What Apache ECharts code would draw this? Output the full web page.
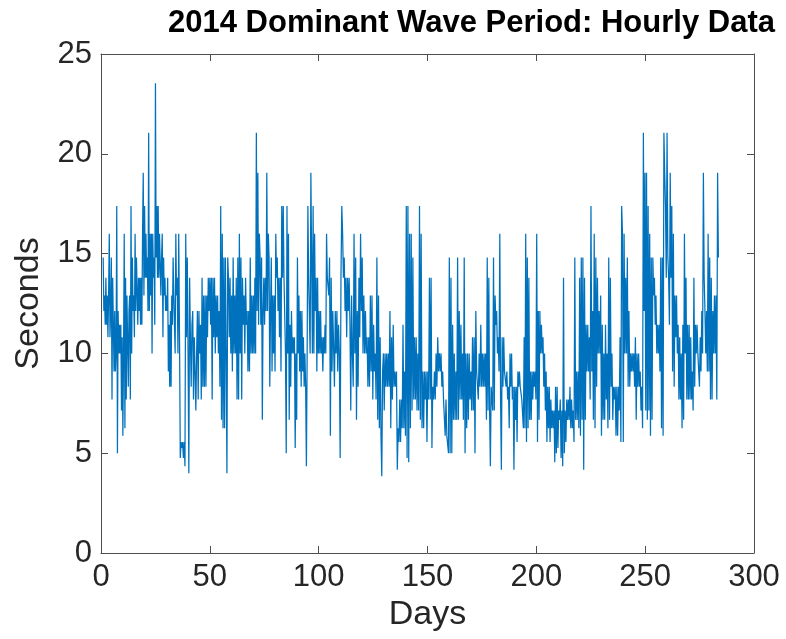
<!DOCTYPE html>
<html>
<head>
<meta charset="utf-8">
<title>2014 Dominant Wave Period</title>
<script src="https://cdn.jsdelivr.net/npm/echarts@6.0.0/dist/echarts.min.js"></script>
<style>
  html, body { margin: 0; padding: 0; background: #fff; }
  #chart { width: 786px; height: 639px; }
</style>
</head>
<body>
<div id="chart"></div>
<script>
// Dominant wave period (s), hourly buoy record for 2014, grouped into ~35-day blocks.
const periodDays01to35 = [
  14.81, 12.12, 12.90, 11.43, 13.79, 11.43, 12.90, 10.81, 12.90, 16.00, 10.81, 12.12,
  14.81, 7.69, 13.79, 13.79, 9.09, 12.12, 9.09, 10.00, 17.39, 5.00,
  12.12, 10.00, 11.43, 10.00, 11.43, 7.14, 10.81, 5.88, 10.00, 16.00, 6.25,
  13.79, 7.69, 12.90, 12.90, 8.33, 12.12, 12.90, 7.69, 17.39, 10.00,
  14.81, 12.12, 12.90, 10.81, 16.00, 12.12, 14.81, 14.81, 11.43, 13.79, 12.12,
  13.79, 11.43, 13.79, 11.43, 16.00, 19.05, 12.90, 17.39, 13.79, 16.00, 13.79,
  14.81, 12.12, 21.05, 12.12, 16.00, 12.90, 16.00, 10.00, 16.00, 13.79, 14.81, 11.43,
  23.53, 14.81, 17.39, 13.79, 17.39, 13.79, 16.00, 16.00, 12.90, 14.81, 16.00, 10.81,
  14.81, 12.90, 13.79, 12.12, 12.90, 12.12, 13.79, 9.09, 11.43, 8.33, 12.12, 8.33,
  12.90, 11.43, 14.81, 12.90, 12.90, 10.00, 16.00, 12.90
];
const periodDays35to70 = [
  13.79, 10.00, 16.00, 10.81, 4.76, 5.56, 5.26, 5.56, 4.76, 5.56, 4.35,
  16.00, 10.81, 14.81, 10.00, 4.00, 13.79, 10.81, 8.33, 11.43, 12.12, 7.69, 10.81,
  9.09, 7.14, 10.00, 12.12, 7.69, 12.12, 10.00, 11.43, 7.69, 13.79, 8.33,
  12.90, 8.33, 12.90, 8.33, 12.90, 10.81, 13.79, 12.12, 13.79, 11.43, 13.79, 7.69,
  13.79, 10.81, 13.79, 10.00, 12.90, 10.81, 12.90, 10.00, 12.12, 8.33,
  17.39, 6.67, 16.00, 6.25, 14.81, 6.25, 14.81, 10.00, 4.00, 14.81,
  13.79, 10.81, 13.79, 10.00, 12.90, 9.09, 14.81, 10.00, 12.90, 10.00,
  13.79, 7.69, 14.81, 7.69, 16.00, 10.00, 14.81, 7.69, 13.79, 11.43,
  12.90, 10.00, 13.79, 11.43, 12.12, 9.09, 12.12, 9.09, 14.81, 10.00, 12.90, 10.00
];
const periodDays70to105 = [
  12.90, 10.00, 13.79, 10.00, 21.05, 12.12, 19.05, 11.43, 16.00, 14.81, 11.43, 14.81,
  6.67, 12.12, 13.79, 11.43, 13.79, 12.12, 19.05, 12.12, 16.00, 14.81, 8.33, 12.12,
  14.81, 9.09, 12.90, 10.00, 12.90, 9.09, 16.00, 13.79, 14.81, 12.12, 13.79, 10.81,
  13.79, 9.09, 17.39, 13.79, 17.39, 13.79, 13.79, 10.00, 5.00, 17.39, 10.00,
  16.00, 6.67, 11.43, 8.33, 12.12, 10.00, 10.81, 10.00, 10.81, 5.26, 10.00, 6.67,
  14.81, 10.00, 12.90, 9.09, 12.12, 8.33, 12.12, 9.09, 10.81, 8.33, 10.00, 8.33,
  4.35, 10.00, 17.39, 13.79, 13.79, 10.00, 19.05, 14.81, 10.00, 17.39, 10.00,
  16.00, 12.12, 13.79, 9.09, 13.79, 10.00, 12.12, 10.00, 12.12, 10.00,
  10.81, 9.09, 10.81, 10.00, 11.43, 10.00, 16.00, 13.79, 13.79, 12.90
];
const periodDays105to141 = [
  14.81, 5.88, 13.79, 9.09, 12.12, 12.12, 8.33, 12.12, 10.00, 12.12, 9.09, 11.43, 10.00,
  4.76, 13.79, 17.39, 16.00, 13.79, 14.81, 12.12, 13.79, 10.81, 13.79, 12.12,
  13.79, 11.43, 7.14, 12.90, 10.00, 8.33, 16.00, 10.00, 14.81, 6.67, 12.12, 8.33,
  13.79, 10.81, 16.00, 12.12, 14.81, 10.00, 12.90, 10.00, 12.12, 10.00,
  10.81, 8.33, 10.81, 8.33, 12.90, 9.09, 12.90, 7.69, 11.43, 9.09, 10.00, 7.69,
  14.81, 6.67, 12.90, 6.25, 10.81, 5.88, 3.85, 9.09, 10.00, 7.14, 10.00, 8.33,
  10.00, 8.33, 10.00, 8.33, 12.12, 6.25, 10.81, 7.69, 11.43, 8.33, 9.09, 8.33,
  9.09, 4.17, 6.25, 5.56, 7.69, 5.56, 7.69, 6.25, 11.43, 6.25, 9.09, 5.88, 17.39, 4.76
];
const periodDays141to176 = [
  17.39, 4.55, 16.00, 6.25, 16.00, 7.14, 14.81, 7.69, 10.81, 7.69, 10.81, 7.14,
  10.00, 7.14, 17.39, 6.67, 16.00, 6.25, 9.09, 6.25, 9.09, 7.69, 9.09, 5.56,
  9.09, 7.69, 13.79, 7.69, 13.79, 5.26, 8.33, 7.69, 9.09, 7.69, 10.00, 8.33,
  10.81, 9.09, 10.00, 9.09, 10.00, 8.33, 9.09, 7.69, 7.69, 5.88, 7.69, 5.88,
  5.88, 5.00, 14.81, 5.00, 13.79, 5.00, 11.43, 6.67, 10.00, 6.67, 9.09, 6.67,
  14.81, 6.67, 12.12, 7.69, 11.43, 7.69, 10.00, 6.67, 14.81, 5.00, 10.00, 6.25,
  10.00, 6.67, 10.00, 7.69, 9.09, 7.14, 10.81, 7.14, 10.81, 5.00, 12.12, 9.09,
  9.09, 7.69, 10.00, 8.33, 11.43, 8.33, 10.00, 8.33
];
const periodDays176to211 = [
  10.00, 8.33, 10.00, 6.67, 14.81, 7.14, 13.79, 7.14, 4.35, 8.33, 8.33, 7.14,
  14.81, 7.14, 12.90, 11.43, 12.12, 10.00, 10.81, 9.09, 16.00, 7.69, 4.17,
  10.81, 8.33, 10.81, 9.09, 9.09, 8.33, 9.09, 7.69, 8.33, 6.25, 10.00, 8.33,
  10.00, 7.69, 8.33, 4.17, 8.33, 6.67, 8.33, 5.56, 9.09, 8.33, 9.09, 8.33,
  8.33, 7.69, 7.69, 6.25, 10.81, 6.25, 16.00, 5.56, 14.81, 6.25, 13.79, 6.67,
  9.09, 6.67, 9.09, 7.69, 9.09, 8.33, 9.09, 7.69, 16.00, 5.56, 12.12, 6.67,
  12.12, 10.00, 11.43, 10.00, 10.81, 8.33, 10.00, 7.14, 9.09, 5.56, 8.33, 6.25,
  8.33, 5.56, 7.69, 6.25, 7.14, 6.25, 7.14, 4.55, 8.33, 5.00, 8.33, 5.26, 7.14, 6.67
];
const periodDays211to247 = [
  7.69, 4.76, 7.14, 4.35, 13.79, 5.00, 7.14, 5.56, 7.69, 6.67, 7.69, 6.67,
  8.33, 6.25, 7.69, 6.25, 7.14, 5.56, 14.81, 6.67, 9.09, 6.67, 9.09, 6.25,
  13.79, 5.88, 14.81, 6.67, 14.81, 4.17, 13.79, 6.67, 11.43, 9.09, 11.43, 9.09,
  10.81, 7.69, 17.39, 9.09, 12.12, 6.67, 16.00, 6.25, 14.81, 8.33, 13.79, 10.00,
  12.12, 10.00, 12.90, 5.88, 11.43, 6.67, 10.00, 6.67, 11.43, 7.69, 10.00, 6.25,
  14.81, 6.67, 13.79, 8.33, 10.00, 6.67, 8.33, 7.69, 8.33, 5.88, 8.33, 5.88,
  8.33, 7.14, 10.81, 5.56, 17.39, 16.00, 5.56, 16.00, 10.00, 13.79, 10.00,
  14.81, 8.33, 12.12, 8.33, 10.00, 9.09, 10.00, 9.09, 10.00, 8.33, 10.81, 6.67, 10.00, 8.33
];
const periodDays247to284 = [
  10.00, 8.33, 9.09, 7.14, 8.33, 6.25, 21.05, 12.12, 19.05, 7.14, 19.05, 6.67,
  17.39, 7.14, 16.00, 5.88, 14.81, 6.67, 14.81, 12.90, 13.79, 11.43, 12.90, 10.00,
  11.43, 10.00, 11.43, 9.09, 14.81, 6.25, 14.81, 5.88, 21.05, 19.05, 17.39, 13.79,
  21.05, 14.81, 13.79, 11.43, 19.05, 13.79, 17.39, 9.09, 16.00, 8.33, 12.90, 10.81,
  12.90, 10.00, 11.43, 7.69, 10.81, 7.69, 10.00, 6.25, 11.43, 6.67, 16.00, 10.00,
  13.79, 7.69, 11.43, 7.69, 11.43, 7.69, 10.81, 7.69, 9.09, 7.14, 13.79, 8.33,
  11.43, 10.00, 11.43, 10.00, 10.00, 8.33, 10.81, 9.09, 12.12, 10.00, 19.05, 13.79,
  12.12, 10.00, 12.12, 9.09, 16.00, 9.09, 14.81, 7.69, 13.79, 7.69, 12.12, 10.00,
  12.90, 10.00, 12.90, 7.69, 19.05, 14.81
];

// First and last day covered by each block above.
const blockDays = [[1, 35], [35, 70], [70, 105], [105, 141], [141, 176], [176, 211], [211, 247], [247, 284]];
const blocks = [periodDays01to35, periodDays35to70, periodDays70to105, periodDays105to141,
                periodDays141to176, periodDays176to211, periodDays211to247, periodDays247to284];

// Axis ticks
const dayTicks = [0, 50, 100, 150, 200, 250, 300];
const secondTicks = [0, 5, 10, 15, 20, 25];

// Spread the readings of each block evenly over its days.
const series = [];
blocks.forEach((vals, k) => {
  const [d0, d1] = blockDays[k];
  const step = (d1 - d0) / vals.length;
  vals.forEach((v, i) => series.push([d0 + i * step, v]));
});

const FONT = '"Liberation Sans", Arial, Helvetica, sans-serif';
const INK = '#262626';
const AXIS = '#4d4d4d';

const boxAxis = (position, min, max, interval, showLabel, extra) => Object.assign({
  type: 'value',
  position: position,
  min: min,
  max: max,
  interval: interval,
  axisLine: { show: true, onZero: false, lineStyle: { color: AXIS, width: 1 } },
  axisTick: { show: true, inside: true, length: 7, lineStyle: { color: AXIS, width: 1 } },
  splitLine: { show: false },
  axisLabel: { show: showLabel, fontFamily: FONT, fontSize: 31, color: INK, margin: 9,
               showMinLabel: true, showMaxLabel: true }
}, extra || {});

const chart = echarts.init(document.getElementById('chart'), null, { renderer: 'canvas' });
chart.setOption({
  animation: false,
  backgroundColor: '#ffffff',
  title: {
    text: '2014 Dominant Wave Period: Hourly Data',
    left: 163,
    top: 3,
    textStyle: { fontFamily: FONT, fontSize: 31, fontWeight: 'bold', color: '#000000' }
  },
  grid: { left: 101, right: 32, top: 54, bottom: 86, containLabel: false },
  xAxis: [
    boxAxis('bottom', dayTicks[0], dayTicks[dayTicks.length - 1], 50, true, {
      name: 'Days', nameLocation: 'middle', nameGap: 42,
      nameTextStyle: { fontFamily: FONT, fontSize: 34, color: INK }
    }),
    boxAxis('top', dayTicks[0], dayTicks[dayTicks.length - 1], 50, false)
  ],
  yAxis: [
    boxAxis('left', secondTicks[0], secondTicks[secondTicks.length - 1], 5, true, {
      name: 'Seconds', nameLocation: 'middle', nameGap: 55,
      nameTextStyle: { fontFamily: FONT, fontSize: 34, color: INK }
    }),
    boxAxis('right', secondTicks[0], secondTicks[secondTicks.length - 1], 5, false)
  ],
  series: [{
    type: 'line',
    xAxisIndex: 0,
    yAxisIndex: 0,
    data: series,
    showSymbol: false,
    symbol: 'none',
    smooth: false,
    lineStyle: { color: '#0072BD', width: 1.25 }
  }]
});
</script>
</body>
</html>
